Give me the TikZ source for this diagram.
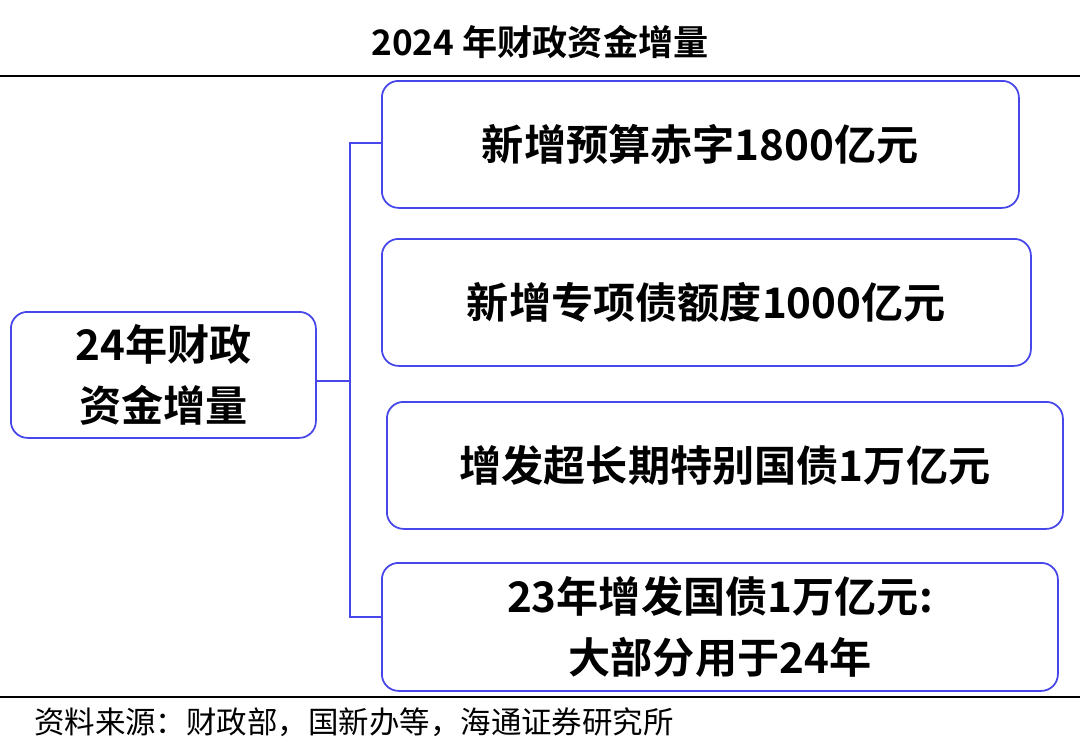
\documentclass[tikz,border=0pt]{standalone}
\usepackage{fontspec}
\newfontfamily\cjk{Noto Sans CJK SC}
\newfontfamily\cjkb{Noto Sans CJK SC Bold}
\usetikzlibrary{positioning}
\definecolor{boxblue}{RGB}{70,70,235}
\tikzset{
	item/.style={draw=boxblue, line width=1.5pt, rounded corners=0.5cm, anchor=north west, align=center,
		font=\cjkb\fontsize{36}{44}\selectfont, inner sep=0pt},
	brace/.style={draw=boxblue, line width=1.5pt},
}
\begin{document}
\begin{tikzpicture}[x=0.03cm, y=-0.03cm]
			\useasboundingbox (0,0) rectangle (1080,745);
			
			\node (title) at (540,42) [font=\cjkb\fontsize{30}{34}\selectfont] {2024 年财政资金增量};
			\draw[line width=2pt] (0,76) -- (1080,76);
			\draw[line width=1pt] (0,697) -- (1080,697);
			
			\node (root) at (10,311) [item, minimum width=9.15cm, minimum height=3.78cm, font=\cjkb\fontsize{36}{52}\selectfont] {24年财政\\资金增量};
			
			\node (b1) at (381,80) [item, minimum width=19.11cm, minimum height=3.81cm] {新增预算赤字1800亿元};
			\node (b2) at (381,238) [item, minimum width=19.47cm, minimum height=3.81cm] {新增专项债额度1000亿元};
			\node (b3) at (386,401) [item, minimum width=20.28cm, minimum height=3.81cm] {增发超长期特别国债1万亿元};
			\node (b4) at (381,562) [item, minimum width=20.28cm, minimum height=3.84cm, font=\cjkb\fontsize{36}{52}\selectfont] {23年增发国债1万亿元:\\大部分用于24年};
			
			\coordinate (mid) at (350,381);
			\coordinate (top) at (350,143);
			\coordinate (bot) at (350,617);
			
			\draw[brace] (root.east |- mid) -- (mid);
			\draw[brace] (b1.west |- top) -- (top) -- (bot) -- (b4.west |- bot);
			
			\node (src) at (30,722) [anchor=west, font=\cjk\fontsize{26}{30}\selectfont] {资料来源：财政部，国新办等，海通证券研究所};
\end{tikzpicture}
\end{document}
